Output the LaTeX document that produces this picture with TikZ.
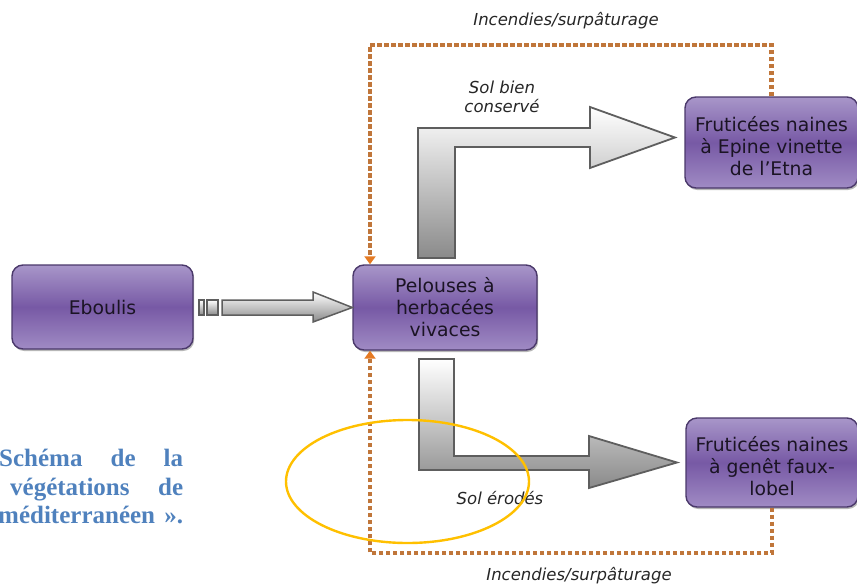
\documentclass[tikz,border=0pt]{standalone}
\usepackage{fontspec}
\setmainfont{DejaVu Sans}[ItalicFont={DejaVu Sans Oblique}]
\newfontfamily\capfont{Liberation Serif}
\usetikzlibrary{arrows.meta,shadows}

\definecolor{boxedge}{HTML}{4A386A}
\definecolor{boxtop}{HTML}{A896C9}
\definecolor{boxmid}{HTML}{7759A5}
\definecolor{boxbot}{HTML}{A08BC4}
\definecolor{boxtext}{HTML}{1B1424}
\definecolor{arrowedge}{HTML}{5E5E5E}
\definecolor{arrowgrey}{HTML}{8A8A8A}
\definecolor{firecol}{HTML}{C0763A}
\definecolor{tipcol}{HTML}{E57A22}
\definecolor{capblue}{HTML}{4F81BD}
\definecolor{ringgold}{HTML}{FFC000}

\tikzset{
  stage/.style={draw=boxedge, line width=1.4pt, rounded corners=11pt,
    top color=boxtop, bottom color=boxbot, middle color=boxmid,
    text=boxtext, align=center, inner sep=0pt,
    font=\fontsize{18.8}{22}\selectfont,
    drop shadow={shadow xshift=1.2pt, shadow yshift=-2pt, opacity=0.4, fill=black!70}},
  blockarrow/.style={draw=arrowedge, line width=1.8pt, line join=miter,
    top color=white, bottom color=arrowgrey},
  fire/.style={draw=firecol, line width=4.2pt, dash pattern=on 4.6pt off 2.4pt,
    -{Triangle[length=8pt,width=11pt,color=tipcol]}},
  tag/.style={font=\fontsize{16.5}{19}\selectfont\itshape, text=black!85, align=center},
  capline/.style={anchor=base west, inner sep=0pt, text=capblue,
    font=\capfont\bfseries\fontsize{25}{29}\selectfont},
}
% taller first line pushes a text block a little lower in its box
\newcommand{\lowerblock}{\rule{0pt}{22pt}}

\begin{document}
\begin{tikzpicture}[x=1pt,y=-1pt]
\useasboundingbox (0,0) rectangle (857,584);
\begin{scope}
\clip (0,0) rectangle (857,584);

% caption fragment on the left
\node[capline] (cap1) at (-1,466) {\makebox[184pt][s]{Schéma de la}};
\node[capline] (cap2) at (10,495) {\makebox[173pt][s]{végétations de}};
\node[capline] (cap3) at (-2,523) {\makebox[185pt][s]{méditerranéen ».}};

% vegetation stages
\node[stage, minimum width=181pt, minimum height=84pt] (ebo) at (102.5,307) {Eboulis};
\node[stage, minimum width=184pt, minimum height=85pt] (pel) at (445,307.5)
  {Pelouses à\\herbacées\\vivaces};
\node[stage, minimum width=173pt, minimum height=91pt] (etna) at (771.5,142.5)
  {\lowerblock Fruticées naines\\à Epine vinette\\de l’Etna};
\node[stage, minimum width=172pt, minimum height=89pt] (gen) at (772,462.5)
  {\lowerblock Fruticées naines\\à genêt faux-\\lobel};

% striped arrow from Eboulis to Pelouses
\draw[blockarrow, line width=1.5pt] (199,300) rectangle (204,315);
\draw[blockarrow, line width=1.5pt] (207,300) rectangle (218,315);
\draw[blockarrow, line width=1.5pt] (222,300) -- (313,300) -- (313,292) -- (pel.west)
  -- (313,322) -- (313,315) -- (222,315) -- cycle;

% bent arrow towards the Etna shrubs
\draw[blockarrow] (418,258) -- (418,128) -- (590,128) -- (590,107) -- (675,137.5)
  -- (590,168) -- (590,147) -- (455,147) -- (455,258) -- cycle;

% bent arrow towards the genet shrubs
\draw[blockarrow] (419,359) -- (419,470) -- (589,470) -- (589,488) -- (677,462.5)
  -- (589,436) -- (589,456) -- (454,456) -- (454,359) -- cycle;

% regression by fire and overgrazing
\coordinate (tl) at (370,45);
\coordinate (bl) at (370,553);
\draw[fire] (etna.north) |- (tl) -- (tl |- pel.north);
\draw[fire] (gen.south) |- (bl) -- (bl |- pel.south);

% labels
\node[tag] (t1) at (566,21) {Incendies/surpâturage};
\node[tag] (t2) at (502,97) {Sol bien\\conservé};
\node[tag] (t3) at (500,498) {Sol érodés};
\node[tag] (t4) at (579,575.5) {Incendies/surpâturage};

% highlight ring
\draw[ringgold, line width=2.4pt] (407.5,481.5) ellipse [x radius=121.5pt, y radius=61.5pt];
\end{scope}
\end{tikzpicture}
\end{document}
